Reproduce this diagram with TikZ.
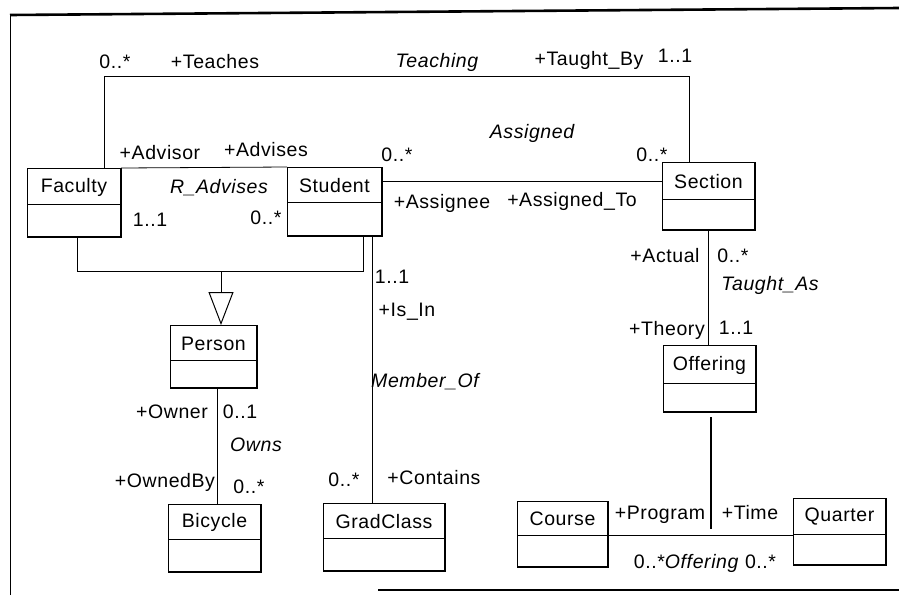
\documentclass[tikz,border=0pt]{standalone}
\usepackage{fontspec}
\setmainfont{Liberation Sans}[LetterSpace=3]
\usetikzlibrary{arrows.meta,calc}
\tikzset{
  clsbox/.style={draw, line width=0.8pt, rectangle, inner sep=0pt, outer sep=0pt},
  clstext/.style={inner sep=0pt, font=\fontsize{19.5}{22}\selectfont},
  lbl/.style={inner sep=0pt, font=\fontsize{19.5}{22}\selectfont},
  aname/.style={lbl, font=\fontsize{19.5}{22}\selectfont\itshape},
  conn/.style={line width=0.8pt}
}
% name, x1, y1, x2, y2, ydiv, text
\newcommand\umlcls[7]{%
  \node[clsbox, minimum width={(#4-#2)*1pt}, minimum height={(#5-#3)*1pt}]
     (#1) at ({(#2+#4)/2},{-(#3+#5)/2}) {};
  \node[clstext] (#1-t) at ({(#2+#4)/2},{-(#3+#6)/2-1}) {#7};
  \draw[line width=0.8pt] (#1.west |- 0,-#6) -- (#1.east |- 0,-#6);
  \draw[line width=1.8pt] (#1.north east) -- (#1.south east) -- (#1.south west);
}
\begin{document}
\begin{tikzpicture}[x=1pt,y=1pt]
\useasboundingbox (0,0) rectangle (899,-595);
% frame
\coordinate (fA) at (10,-595);
\coordinate (fB) at (10,-15);
\coordinate (fC) at (899,-8);
\coordinate (fD) at (378,-590);
\coordinate (fE) at (899,-590);
\draw[line width=0.9pt] (fA) -- (fB);
\draw[line width=2.6pt] (fB) -- (fC);
\draw[line width=2pt] (fD) -- (fE);

% classes
\umlcls{faculty}{27}{168}{121}{237}{204}{Faculty}
\umlcls{student}{287}{167}{382}{236}{202}{Student}
\umlcls{section}{662}{162}{755}{230}{199}{Section}
\umlcls{person}{170}{325}{257}{388}{360}{Person}
\umlcls{bicycle}{168}{504}{261}{572}{539}{Bicycle}
\umlcls{gradclass}{323}{503}{445}{571}{538}{GradClass}
\umlcls{offering}{663}{345}{756}{412}{383}{Offering}
\umlcls{course}{517}{501}{608}{567}{535}{Course}
\umlcls{quarter}{793}{498}{886}{565}{534}{Quarter}

% Teaching
\coordinate (t1) at (104,-76);
\coordinate (t2) at (689,-76);
\draw[conn] (faculty.north -| t1) -- (t1) -- (t2) -- (section.north -| t2);
% R_Advises
\draw[conn] (faculty.north east) -- (student.north west);
% Assigned
\draw[conn] (student.east |- 0,-181) -- (section.west |- 0,-181);
% Generalization
\coordinate (gL) at (77,-271);
\coordinate (gR) at (363,-271);
\coordinate (gM) at (221,-271);
\draw[conn] (faculty.south -| gL) -- (gL) -- (gR) -- (student.south -| gR);
\draw[conn, -{Triangle[open, length=33pt, width=25pt, line width=1pt]}] (gM) -- (person.north -| gM);
% Member_Of
\coordinate (m1) at (372,0);
\draw[conn] (student.south -| m1) -- (gradclass.north -| m1);
% Owns
\coordinate (o1) at (217,0);
\draw[conn] (person.south -| o1) -- (bicycle.north -| o1);
% Taught_As
\coordinate (ta) at (708,0);
\draw[conn] (section.south -| ta) -- (offering.north -| ta);
% Offering association
\draw[conn] (course.east |- 0,-535) -- (quarter.west |- 0,-535);
\coordinate (oc) at (711,-529);
\draw[line width=1.6pt] ([yshift=-5pt]offering.south -| oc) -- (oc);

% labels
\node[lbl] (l1) at (115,-62) {0..*};
\node[lbl] (l2) at (215,-62) {+Teaches};
\node[aname] (l3) at (437,-62) {Teaching};
\node[lbl] (l4) at (589,-60) {+Taught\_By};
\node[lbl] (l5) at (675,-56) {1..1};
\node[lbl] (l6) at (160,-153) {+Advisor};
\node[lbl] (l7) at (266,-150) {+Advises};
\node[aname] (l8) at (219,-188) {R\_Advises};
\node[lbl] (l9) at (150,-220) {1..1};
\node[lbl] (l10) at (266,-218) {0..*};
\node[lbl] (l11) at (397,-155) {0..*};
\node[aname] (l12) at (532,-133) {Assigned};
\node[lbl] (l13) at (652,-155) {0..*};
\node[lbl] (l14) at (442,-203) {+Assignee};
\node[lbl] (l15) at (572,-201) {+Assigned\_To};
\node[lbl] (l16) at (665,-256) {+Actual};
\node[lbl] (l17) at (733,-256) {0..*};
\node[aname] (l18) at (770,-285) {Taught\_As};
\node[lbl] (l19) at (667,-330) {+Theory};
\node[lbl] (l20) at (736,-328) {1..1};
\node[lbl] (l21) at (392,-277) {1..1};
\node[lbl] (l22) at (407,-312) {+Is\_In};
\node[aname] (l23) at (425,-382) {Member\_Of};
\node[lbl] (l24) at (344,-480) {0..*};
\node[lbl] (l25) at (434,-478) {+Contains};
\node[lbl] (l26) at (172,-412) {+Owner};
\node[lbl] (l27) at (240,-412) {0..1};
\node[aname] (l28) at (256,-445) {Owns};
\node[lbl] (l29) at (165,-482) {+OwnedBy};
\node[lbl] (l30) at (249,-487) {0..*};
\node[lbl] (l31) at (660,-515) {+Program};
\node[lbl] (l32) at (750,-513) {+Time};
\node[lbl] (l33) at (705,-563) {0..*\textit{Offering} 0..*};
\end{tikzpicture}
\end{document}
